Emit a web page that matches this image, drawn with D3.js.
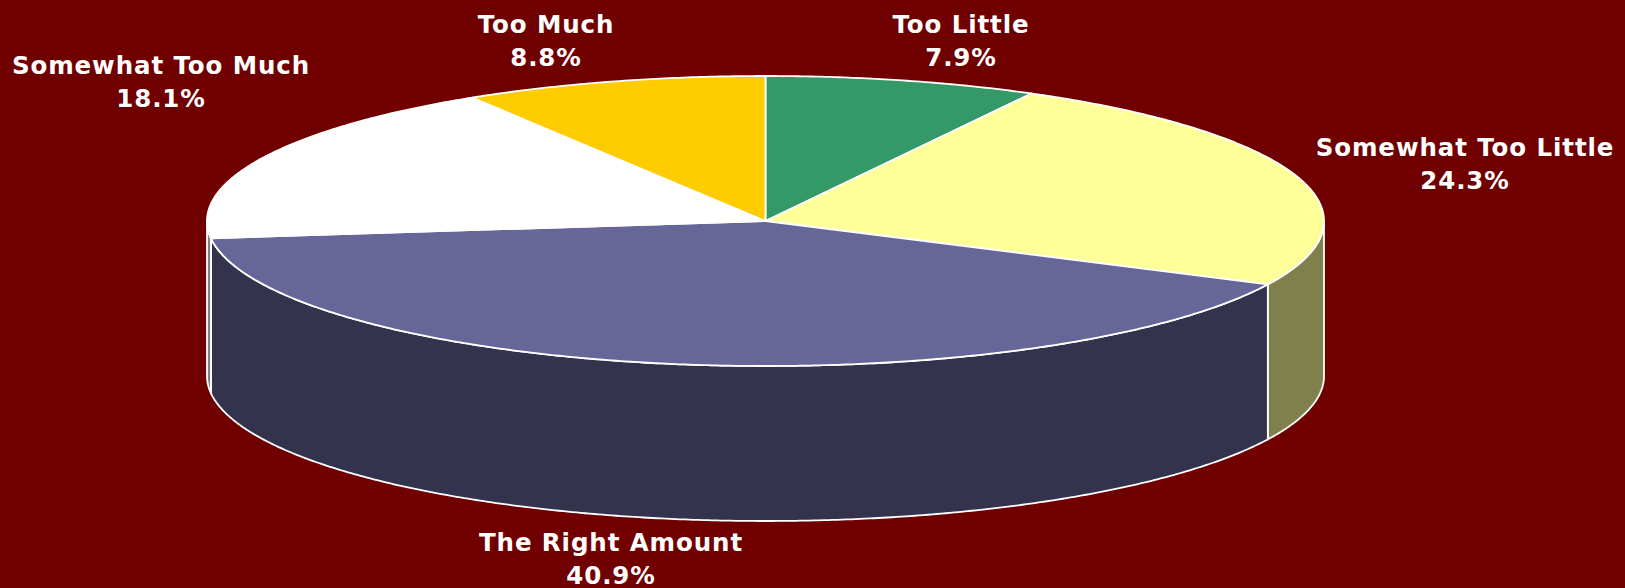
<!DOCTYPE html>
<html>
<head>
<meta charset="utf-8">
<script src="https://cdn.jsdelivr.net/npm/d3@7"></script>
<style>
  html, body { margin: 0; padding: 0; background: #700000; }
  svg { display: block; }
</style>
</head>
<body>
<svg id="chart" width="1625" height="588"></svg>
<script>
// ---- data ----
const categories = ["Too Little", "Somewhat Too Little", "The Right Amount", "Somewhat Too Much", "Too Much"];
const values = [7.9, 24.3, 40.9, 18.1, 8.8];
const topColors = ["#339966", "#FFFF99", "#666699", "#FFFFFF", "#FFCC00"];

// ---- layout (label anchor points: centre x, first baseline y) ----
const labelAnchors = [[961, 33], [1465, 156], [611, 551], [161, 74], [546, 33]];

const W = 1625, H = 588;
const cx = 765.5, cy = 221, rx = 558.5, ry = 145, depth = 155;
const lineGap = 33;

const svg = d3.select("#chart");
svg.append("rect").attr("width", W).attr("height", H).attr("fill", "#700000");

const pie = d3.pie().sort(null).value(d => d).startAngle(0).endAngle(2 * Math.PI);
const arcs = pie(values);

const pt = (a, dy) => [cx + rx * Math.sin(a), cy - ry * Math.cos(a) + dy];
const line = d3.line();

function arcPoints(a0, a1, dy) {
  const n = Math.max(2, Math.ceil(Math.abs(a1 - a0) * 120));
  return d3.range(n + 1).map(i => pt(a0 + (a1 - a0) * i / n, dy));
}

const darker = c => { const k = d3.rgb(c); return d3.rgb(k.r * 0.5, k.g * 0.5, k.b * 0.5).formatHex(); };

// sides (front half: angles PI/2 .. 3PI/2)
const gSide = svg.append("g");
arcs.forEach((d, i) => {
  const s = Math.max(d.startAngle, Math.PI / 2);
  const e = Math.min(d.endAngle, 3 * Math.PI / 2);
  if (e <= s) return;
  const pts = arcPoints(s, e, 0).concat(arcPoints(e, s, depth));
  gSide.append("path")
    .attr("d", line(pts) + "Z")
    .attr("fill", darker(topColors[i]))
    .attr("stroke", "#FFFFFF")
    .attr("stroke-width", 1.8)
    .attr("stroke-linejoin", "round");
});

// tops
const gTop = svg.append("g");
arcs.forEach((d, i) => {
  const pts = [[cx, cy]].concat(arcPoints(d.startAngle, d.endAngle, 0));
  gTop.append("path")
    .attr("d", line(pts) + "Z")
    .attr("fill", topColors[i])
    .attr("stroke", "#FFFFFF")
    .attr("stroke-width", 1.8)
    .attr("stroke-linejoin", "round");
});

// labels
const fmt = d3.format(".1f");
const gLab = svg.append("g")
  .attr("font-family", "'DejaVu Sans', Verdana, sans-serif")
  .attr("font-weight", "bold")
  .attr("font-size", "24.5px")
  .attr("letter-spacing", "0.9px")
  .attr("fill", "#FFFFFF")
  .attr("text-anchor", "middle");
arcs.forEach((d, i) => {
  const [lx, ly] = labelAnchors[i];
  gLab.append("text").attr("x", lx).attr("y", ly).text(categories[i]);
  gLab.append("text").attr("x", lx).attr("y", ly + lineGap).text(fmt(values[i]) + "%");
});
</script>
</body>
</html>
